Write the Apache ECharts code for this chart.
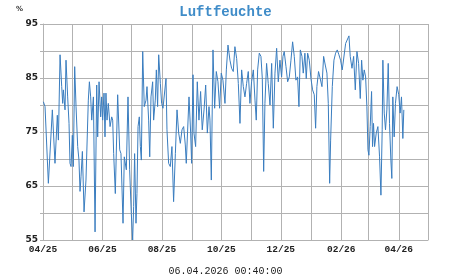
<!DOCTYPE html>
<html><head><meta charset="utf-8">
<script src="https://cdn.jsdelivr.net/npm/echarts@6/dist/echarts.min.js"></script>
<style>html,body{margin:0;padding:0;background:#fff}#c{width:451px;height:275px}</style>
</head><body><div id="c"></div>
<script>
// day offsets from 01.04.2025 and humidity (%)
const dayOffsets = [0.4,2.1,5.5,9.6,12.3,14.7,15.8,17.5,19.2,20.2,20.9,22.6,23.6,25.3,26.7,27.7,28.8,30.1,31.1,32.5,33.9,35.6,36.9,38.0,39.0,40.4,42.1,44.1,46.5,47.6,48.9,50.0,51.7,53.4,55.1,56.1,57.5,59.2,60.2,61.2,62.6,63.6,64.6,65.7,67.0,68.8,70.5,71.5,
72.5,74.2,76.6,78.7,80.0,82.1,83.4,85.5,87.2,88.9,90.6,92.0,93.0,94.0,95.4,96.4,97.5,98.8,99.9,100.9,102.3,103.9,105.7,106.7,108.4,109.5,110.8,112.5,113.5,115.2,116.3,117.6,118.7,120.4,121.7,123.1,124.5,126.2,127.2,128.9,130.6,132.3,134.0,135.8,137.5,139.2,140.9,142.6,144.3,146.0,147.0,
149.8,151.5,152.5,153.9,154.9,156.6,158.3,160.0,161.7,163.4,165.2,166.9,168.6,170.3,171.3,172.7,174.4,176.1,177.8,179.5,181.2,182.9,184.6,186.7,188.1,189.8,191.8,193.5,195.2,196.9,198.7,200.4,202.1,203.8,205.5,207.2,208.9,210.6,212.3,214.0,215.8,217.5,218.8,
220.2,221.9,223.6,225.0,226.4,227.7,229.4,231.1,232.9,234.6,236.3,238.0,239.7,241.4,243.1,244.8,246.2,247.5,249.3,251.0,252.7,254.4,256.1,257.8,259.5,261.2,262.6,264.0,265.7,267.0,268.7,270.1,271.5,273.2,274.9,276.6,278.3,279.7,281.0,282.7,284.4,286.2,287.9,289.6,291.3,292.7,
294.1,295.1,296.8,298.5,300.2,301.9,303.6,305.3,307.0,308.8,310.5,312.2,313.9,315.2,317.0,318.7,320.4,322.1,323.8,325.5,326.9,328.2,329.6,331.0,332.3,333.4,334.4,335.7,337.1,338.1,339.1,340.2,341.9,343.6,345.3,346.7,348.0,348.7,350.1,351.4,352.8,354.2,355.5,356.9,357.9,358.9,360.3,361.6,363.3,365.0,366.4,367.8,369.2,370.2];
const humidity = [80.6,79.7,65.5,79.1,69.2,78.1,73.5,89.3,83.4,80.3,82.8,79.1,88.3,81.5,76.6,69.2,68.6,74.4,68.6,87.1,79.7,72.3,69.8,64.0,66.7,71.4,60.2,66.1,80.9,84.3,81.5,77.2,81.5,56.5,83.7,74.1,84.3,77.8,81.5,77.2,82.2,74.1,82.2,77.2,80.3,76.0,77.8,77.2,
71.0,63.6,81.9,71.7,71.0,58.1,70.4,68.0,81.5,68.0,59.9,55.0,61.2,71.0,58.1,63.6,76.0,77.8,72.3,69.8,89.9,79.7,80.9,83.4,77.2,70.4,81.5,84.3,77.2,80.9,86.5,79.7,89.3,84.0,80.3,79.4,79.7,84.9,75.4,69.2,68.6,72.3,62.1,71.0,79.1,74.8,72.9,75.4,76.0,72.6,69.2,
81.5,74.8,69.2,85.6,74.8,72.3,84.3,77.2,82.5,75.4,79.1,83.7,74.8,79.7,77.2,66.1,90.2,79.4,86.2,84.3,79.4,85.9,84.6,80.3,86.5,91.1,88.3,86.8,86.2,90.8,88.6,84.0,76.6,86.5,83.4,81.5,84.0,86.2,80.3,84.3,86.5,80.9,77.2,
86.5,89.6,89.0,84.9,67.7,80.3,87.7,84.0,80.0,87.7,75.7,85.9,90.5,84.3,88.3,85.2,89.0,89.9,87.1,84.3,85.2,88.3,91.7,89.0,84.6,85.2,79.7,90.2,89.0,85.9,89.6,84.9,89.6,88.3,84.9,82.8,81.9,75.7,83.4,86.2,84.9,83.4,89.0,87.4,85.9,80.3,
65.5,73.5,83.4,88.3,89.6,90.2,89.3,88.3,86.5,86.8,91.4,91.7,92.8,89.0,86.8,89.0,82.8,89.9,87.7,81.2,88.3,84.6,86.5,85.2,79.7,71.7,70.7,76.0,82.5,72.3,76.6,72.3,74.8,76.0,70.4,63.3,75.4,88.3,78.5,75.4,79.1,87.7,76.6,69.8,66.4,81.5,74.1,80.3,83.4,81.9,78.5,81.5,73.8,79.1];
const yTickLabels = [55, 65, 75, 85, 95];
const titleText = 'Luftfeuchte';
const unitText = '%';
const stampText = '06.04.2026 00:40:00';

const start = new Date(2025, 3, 1).getTime();
const DAY = 86400000;
const seriesData = dayOffsets.map((d, i) => [start + d * DAY, humidity[i]]);

const chart = echarts.init(document.getElementById('c'), null, {renderer: 'canvas'});
const mono = '"Liberation Mono", "DejaVu Sans Mono", monospace';
const gridColor = '#b2b2b2';
chart.setOption({
  animation: false,
  backgroundColor: '#fff',
  title: [
    {text: titleText, left: 'center', top: 0, textStyle: {fontFamily: mono, fontWeight: 'bold', fontSize: 14, color: '#3f8cc8'}},
    {text: unitText, left: 11, top: 1, textStyle: {fontFamily: '"DejaVu Sans"', fontWeight: 'bold', fontSize: 7, color: '#333'}},
    {text: stampText, left: 'center', top: 261, textStyle: {fontFamily: mono, fontWeight: 'normal', fontSize: 10, color: '#222'}}
  ],
  grid: {left: 43, right: 23, top: 24, bottom: 35, containLabel: false},
  xAxis: {
    type: 'time',
    min: start,
    max: new Date(2026, 4, 1).getTime(),
    minInterval: 28 * DAY,
    maxInterval: 31 * DAY,
    axisLine: {show: true, lineStyle: {color: gridColor, width: 1}},
    axisTick: {show: false},
    splitLine: {show: true, lineStyle: {color: gridColor, width: 1}},
    axisLabel: {
      fontFamily: mono, fontWeight: 'bold', fontSize: 9.5, color: '#222', margin: 5,
      showMinLabel: true, showMaxLabel: true, hideOverlap: false,
      formatter: function (v) {
        const d = new Date(v);
        if (d.getMonth() % 2 !== 1) return '';
        const m = String(d.getMonth() + 1).padStart(2, '0');
        const y = String(d.getFullYear() % 100).padStart(2, '0');
        return m + '/' + y;
      }
    }
  },
  yAxis: {
    type: 'value', min: 55, max: 95, interval: 5,
    axisLine: {show: true, lineStyle: {color: gridColor, width: 1}},
    axisTick: {show: true, length: 3, lineStyle: {color: gridColor}},
    splitLine: {show: true, lineStyle: {color: gridColor, width: 1}},
    axisLabel: {
      fontFamily: '"DejaVu Sans"', fontWeight: 'bold', fontSize: 9, color: '#222', margin: 5,
      formatter: function (v) { return yTickLabels.indexOf(v) >= 0 ? String(v) : ''; }
    }
  },
  series: [{
    type: 'line', data: seriesData, showSymbol: false, symbol: 'none',
    lineStyle: {color: '#3a7dbf', width: 1}, clip: true
  }]
});
</script></body></html>
